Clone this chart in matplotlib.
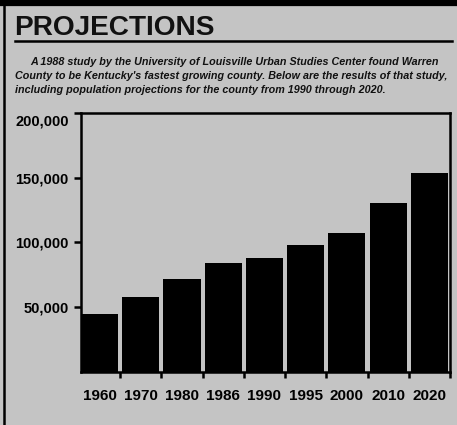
import matplotlib
matplotlib.use("Agg")
import matplotlib.pyplot as plt
from matplotlib.lines import Line2D
from matplotlib.ticker import FuncFormatter
import matplotlib.transforms as mtransforms

years = ["1960", "1970", "1980", "1986", "1990", "1995", "2000", "2010", "2020"]
population = [44600, 57700, 71800, 84300, 88000, 97700, 107700, 130800, 153800]
yticks = [50000, 100000, 150000, 200000]

title = "PROJECTIONS"
subtitle_lines = [
    "A 1988 study by the University of Louisville Urban Studies Center found Warren",
    "County to be Kentucky's fastest growing county. Below are the results of that study,",
    "including population projections for the county from 1990 through 2020.",
]

BG = "#c4c4c4"
W, H = 457, 425
plt.rcParams["font.family"] = ["Liberation Sans", "DejaVu Sans"]

fig = plt.figure(figsize=(W / 100, H / 100), dpi=100, facecolor=BG)

def fx(px):
    return px / W

def fy(py):
    return 1 - py / H

# frame decorations
fig.add_artist(Line2D([0, 1], [fy(2.5), fy(2.5)], color="black", lw=4.5, transform=fig.transFigure))
fig.add_artist(Line2D([fx(4), fx(4)], [0, 1], color="black", lw=1.8, transform=fig.transFigure))
fig.add_artist(Line2D([fx(15), fx(452)], [fy(41), fy(41)], color="black", lw=1.8, transform=fig.transFigure))

fig.text(fx(14), fy(35), title, fontsize=20.2, fontweight="bold", va="baseline", ha="left", color="#111111")

sub_x = [30, 15, 15]
sub_y = [62, 76, 90]
for line, x, y in zip(subtitle_lines, sub_x, sub_y):
    fig.text(fx(x), fy(y), line, fontsize=7.75, fontweight="bold", fontstyle="italic",
             va="center", ha="left", color="#111111")

ax = fig.add_axes([fx(81), fy(372), fx(450) - fx(81), fy(113) - fy(372)])
ax.set_facecolor(BG)
x = list(range(len(years)))
ax.bar(x, population, width=0.9, color="black", edgecolor="none")
ax.set_xlim(-0.45, len(years) - 0.55)
ax.set_ylim(0, 200000)

for s in ax.spines.values():
    s.set_linewidth(1.8)
    s.set_color("black")

ax.set_yticks(yticks)
ax.yaxis.set_major_formatter(FuncFormatter(lambda v, p: f"{int(v):,}"))
ax.tick_params(axis="y", direction="out", length=5, width=1.8, pad=4, labelsize=10.5)
for lab in ax.get_yticklabels():
    lab.set_fontweight("bold")
# top label sits slightly below the frame line in the reference
top_lab = ax.get_yticklabels()[-1]
top_lab.set_transform(top_lab.get_transform() + mtransforms.ScaledTranslation(0, -7 / 100, fig.dpi_scale_trans))

# x tick marks at bar boundaries, labels centered under bars
ax.set_xticks([i + 0.5 for i in range(len(years))])
ax.set_xticklabels([])
ax.tick_params(axis="x", direction="out", length=4, width=1.8)
ax.set_xticks(x, minor=True)
ax.set_xticklabels(years, minor=True, fontsize=11, fontweight="bold")
ax.tick_params(axis="x", which="minor", length=0, pad=12)

fig.savefig("out.png", dpi=100, facecolor=BG)
